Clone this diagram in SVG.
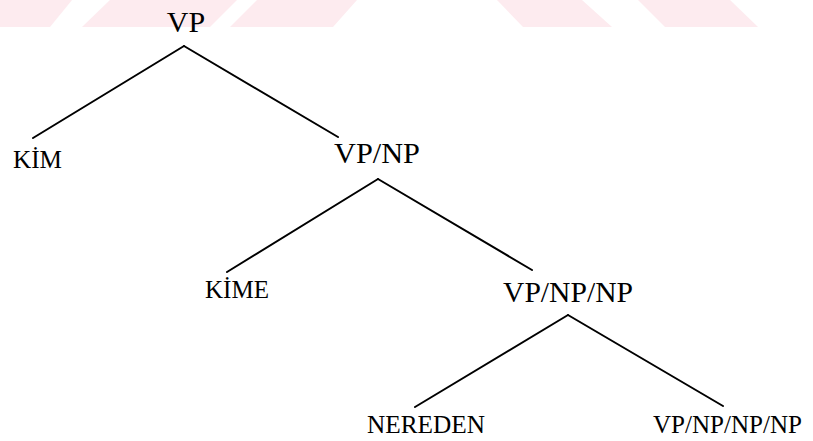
<svg xmlns="http://www.w3.org/2000/svg" width="813" height="441" viewBox="0 0 813 441">
<style>
.bg{fill:#fdebef}
.big{font-family:"Liberation Serif","Times New Roman",serif;font-size:30px;fill:#000}
.sm{font-family:"Liberation Serif","Times New Roman",serif;font-size:25px;fill:#000}
.edge{stroke:#000;stroke-width:2;fill:none;stroke-linecap:round}
</style>
<rect width="813" height="441" fill="#fff"/>
<g id="watermark">
<polygon class="bg" points="0,0 72,0 50,27 0,27"/>
<polygon class="bg" points="110,0 237,0 210,27 82,27"/>
<polygon class="bg" points="257,0 357,0 333,27 230,27"/>
<polygon class="bg" points="497,0 582,0 612,27 523,27"/>
<polygon class="bg" points="638,0 730,0 758,27 665,27"/>
</g>
<g id="connectors">
<line class="edge" x1="184" y1="46" x2="33" y2="138"/>
<line class="edge" x1="184" y1="46" x2="338" y2="137"/>
<line class="edge" x1="378" y1="179" x2="227" y2="272"/>
<line class="edge" x1="378" y1="179" x2="532" y2="270"/>
<line class="edge" x1="568" y1="315" x2="415" y2="407"/>
<line class="edge" x1="568" y1="315" x2="723" y2="406"/>
</g>
<g id="n-vp"><text class="big" x="186" y="32" text-anchor="middle">VP</text></g>
<g id="n-kim"><text class="sm" x="13" y="168" textLength="49" lengthAdjust="spacingAndGlyphs">KİM</text></g>
<g id="n-vpnp"><text class="big" x="334" y="163" textLength="86" lengthAdjust="spacingAndGlyphs">VP/NP</text></g>
<g id="n-kime"><text class="sm" x="205" y="298" textLength="64" lengthAdjust="spacingAndGlyphs">KİME</text></g>
<g id="n-vpnpnp"><text class="big" x="503" y="302" textLength="130" lengthAdjust="spacingAndGlyphs">VP/NP/NP</text></g>
<g id="n-nereden"><text class="sm" x="367" y="433" textLength="118" lengthAdjust="spacingAndGlyphs">NEREDEN</text></g>
<g id="n-vpnpnpnp"><text class="sm" x="653" y="433" textLength="149" lengthAdjust="spacingAndGlyphs">VP/NP/NP/NP</text></g>
</svg>
